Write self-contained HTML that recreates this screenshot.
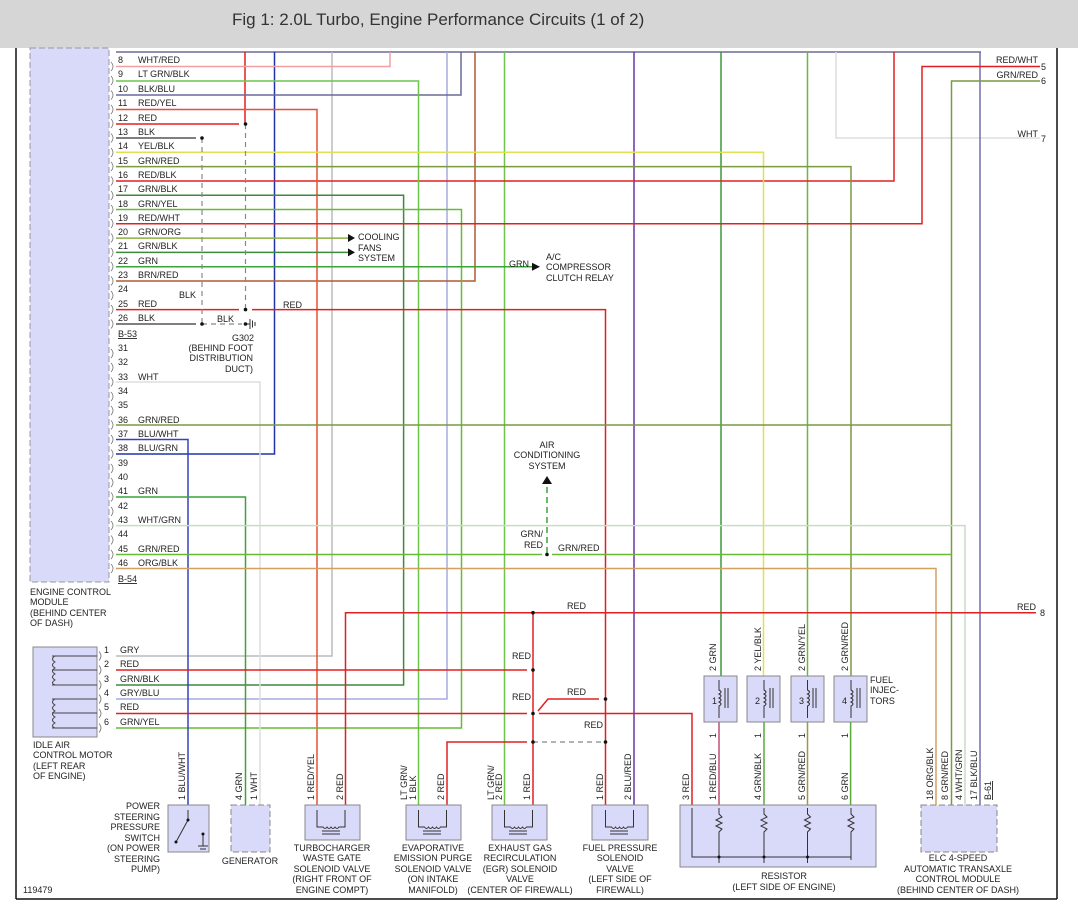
<!DOCTYPE html>
<html><head><meta charset="utf-8"><style>
html,body{margin:0;padding:0;background:#fff;width:1078px;height:908px;overflow:hidden}
svg{display:block}
text{font-family:"Liberation Sans",sans-serif;font-size:9px;fill:#222}
</style></head><body>
<svg width="1078" height="908" viewBox="0 0 1078 908" xmlns="http://www.w3.org/2000/svg">
<rect x="0" y="0" width="1078" height="48" fill="#d6d6d6"/>
<text x="232" y="25" style="font-size:17px;fill:#333">Fig 1: 2.0L Turbo, Engine Performance Circuits (1 of 2)</text>
<line x1="16" y1="48" x2="16" y2="899" stroke="#111" stroke-width="1.5"/>
<line x1="1057" y1="48" x2="1057" y2="899" stroke="#111" stroke-width="1.5"/>
<line x1="16" y1="899" x2="1057" y2="899" stroke="#111" stroke-width="1.5"/>
<rect x="30" y="48" width="79" height="534" fill="#d9d9fa" stroke="#999" stroke-dasharray="6,3"/>
<g fill="none" stroke-width="1.5">
<polyline points="116,52 981,52" stroke="#6a6a98"/>
<polyline points="245,52 245,124" stroke="#e02020"/>
<polyline points="274.5,52 274.5,454 116,454" stroke="#2233aa"/>
<polyline points="332,52 332,656 116,656" stroke="#bbb"/>
<polyline points="390,52 390,66.5 116,66.5" stroke="#f0a0a0"/>
<polyline points="447,52 447,699 116,699" stroke="#a6acdd"/>
<polyline points="461,52 461,95 116,95" stroke="#6a6a98"/>
<polyline points="475,52 475,281 116,281" stroke="#b05a30"/>
<polyline points="504.5,52 504.5,805" stroke="#6cc44a"/>
<polyline points="634,52 634,805" stroke="#6633aa"/>
<polyline points="721,52 721,676" stroke="#3a9a3a"/>
<polyline points="807.5,52 807.5,676" stroke="#66bb33"/>
<polyline points="836,52 836,138 1040,138" stroke="#ddd"/>
<polyline points="894,52 894,181 116,181" stroke="#e02020"/>
<polyline points="980,52 980,805" stroke="#7070a8"/>
<polyline points="116,81 418.5,81 418.5,805" stroke="#6cc44a"/>
<polyline points="116,109.5 317,109.5 317,805" stroke="#e85030"/>
<polyline points="116,124 239,124" stroke="#e02020"/>
<polyline points="116,138 196,138" stroke="#555"/>
<polyline points="116,152.3 763.5,152.3 763.5,676" stroke="#e0e050"/>
<polyline points="116,166.6 851,166.6 851,676" stroke="#7a9a40"/>
<polyline points="116,195.2 403.6,195.2 403.6,685 116,685" stroke="#3d8a3d"/>
<polyline points="116,209.5 461.5,209.5 461.5,728 116,728" stroke="#66bb33"/>
<polyline points="116,223.8 922,223.8 922,66.5 1040,66.5" stroke="#e02020"/>
<polyline points="116,238.1 348,238.1" stroke="#8ab040"/>
<polyline points="116,252.4 348,252.4" stroke="#3d8a3d"/>
<polyline points="116,266.7 532,266.7" stroke="#3aa33a"/>
<polyline points="116,309.6 239,309.6" stroke="#e02020"/>
<polyline points="252,309.6 605.5,309.6 605.5,805" stroke="#e02020"/>
<polyline points="116,324 196,324" stroke="#555"/>
<polyline points="116,382 260,382 260,805" stroke="#ddd"/>
<polyline points="116,425 951.5,425" stroke="#7a9a40"/>
<polyline points="1040,81 951.5,81 951.5,805" stroke="#7a9a40"/>
<polyline points="116,439.5 188,439.5 188,805" stroke="#3344bb"/>
<polyline points="116,497 245.5,497 245.5,805" stroke="#3aa33a"/>
<polyline points="116,525.6 965,525.6 965,805" stroke="#c8dcc8"/>
<polyline points="116,554.5 542,554.5" stroke="#66bb33"/>
<polyline points="552,554.5 951.5,554.5" stroke="#66bb33"/>
<polyline points="116,568.5 936,568.5 936,805" stroke="#d4a060"/>
<polyline points="1036,612.7 345.5,612.7 345.5,805" stroke="#e02020"/>
<polyline points="533,612.7 533,805" stroke="#e02020"/>
<polyline points="116,670 527,670" stroke="#e02020"/>
<polyline points="116,713.5 527,713.5" stroke="#e02020"/>
<polyline points="539,713.5 692,713.5 692,805" stroke="#e02020"/>
<polyline points="538,711 548,699 599,699" stroke="#e02020"/>
<polyline points="527,742 447,742 447,805" stroke="#e02020"/>
<polyline points="719,722 719,805" stroke="#c05070"/>
<polyline points="764,722 764,805" stroke="#5aaa3a"/>
<polyline points="807.5,722 807.5,805" stroke="#9a9a40"/>
<polyline points="850.6,722 850.6,805" stroke="#5aaa3a"/>
</g>
<g fill="none" stroke="#888" stroke-width="1.2" stroke-dasharray="5,4">
<line x1="202" y1="138" x2="202" y2="324"/>
<line x1="245.5" y1="124" x2="245.5" y2="310"/>
<line x1="202" y1="324" x2="242" y2="324"/>
<line x1="533" y1="742" x2="605" y2="742"/>
</g>
<line x1="547" y1="553" x2="547" y2="484" stroke="#3aa33a" stroke-width="1.5" stroke-dasharray="6,4"/>
<polygon points="542,484 552,484 547,476" fill="#111"/>
<g stroke="#333" stroke-width="1"><line x1="245" y1="324" x2="250" y2="324"/><line x1="250" y1="319" x2="250" y2="329"/><line x1="252.5" y1="320.5" x2="252.5" y2="327.5"/><line x1="255" y1="322" x2="255" y2="326"/></g>
<g fill="#111">
<circle cx="245.5" cy="124" r="1.8"/><circle cx="202" cy="138" r="1.8"/><circle cx="245.5" cy="309.6" r="1.8"/><circle cx="202" cy="324" r="1.8"/><circle cx="245.5" cy="324" r="1.8"/>
<circle cx="547" cy="554.5" r="1.8"/><circle cx="533" cy="612.7" r="1.8"/><circle cx="533" cy="670" r="1.8"/><circle cx="533" cy="713.5" r="1.8"/><circle cx="605.5" cy="699" r="1.8"/><circle cx="533" cy="742" r="1.8"/><circle cx="605.5" cy="742" r="1.8"/>
</g>
<polygon points="348,234 348,242 355,238" fill="#111"/>
<polygon points="348,248.4 348,256.4 355,252.4" fill="#111"/>
<polygon points="532,262.7 532,270.7 540,266.7" fill="#111"/>
<!-- connector glyphs -->
<g fill="none" stroke="#777" stroke-width="0.8">
<path d="M111,62 q4,4.5 0,9 M111,76 q4,4.5 0,9 M111,90.5 q4,4.5 0,9 M111,105 q4,4.5 0,9 M111,119 q4,4.5 0,9 M111,133.5 q4,4.5 0,9 M111,148 q4,4.5 0,9 M111,162 q4,4.5 0,9 M111,176.5 q4,4.5 0,9 M111,191 q4,4.5 0,9 M111,205 q4,4.5 0,9 M111,219 q4,4.5 0,9 M111,233.5 q4,4.5 0,9 M111,248 q4,4.5 0,9 M111,262 q4,4.5 0,9 M111,276.5 q4,4.5 0,9 M111,291 q4,4.5 0,9 M111,305 q4,4.5 0,9 M111,319.5 q4,4.5 0,9"/>
<path d="M111,349 q4,4.5 0,9 M111,363 q4,4.5 0,9 M111,377.5 q4,4.5 0,9 M111,392 q4,4.5 0,9 M111,406 q4,4.5 0,9 M111,420.5 q4,4.5 0,9 M111,435 q4,4.5 0,9 M111,449.5 q4,4.5 0,9 M111,464 q4,4.5 0,9 M111,478 q4,4.5 0,9 M111,492.5 q4,4.5 0,9 M111,507 q4,4.5 0,9 M111,521 q4,4.5 0,9 M111,535.5 q4,4.5 0,9 M111,550 q4,4.5 0,9 M111,564 q4,4.5 0,9"/>
<path d="M99,651.5 q4,4.5 0,9 M99,665.5 q4,4.5 0,9 M99,680.5 q4,4.5 0,9 M99,694.5 q4,4.5 0,9 M99,709 q4,4.5 0,9 M99,723.5 q4,4.5 0,9"/>
</g>
<g>
<text x="118" y="63">8</text><text x="138" y="63">WHT/RED</text>
<text x="118" y="77">9</text><text x="138" y="77">LT GRN/BLK</text>
<text x="118" y="92">10</text><text x="138" y="92">BLK/BLU</text>
<text x="118" y="106">11</text><text x="138" y="106">RED/YEL</text>
<text x="118" y="121">12</text><text x="138" y="121">RED</text>
<text x="118" y="135">13</text><text x="138" y="135">BLK</text>
<text x="118" y="149">14</text><text x="138" y="149">YEL/BLK</text>
<text x="118" y="164">15</text><text x="138" y="164">GRN/RED</text>
<text x="118" y="178">16</text><text x="138" y="178">RED/BLK</text>
<text x="118" y="192">17</text><text x="138" y="192">GRN/BLK</text>
<text x="118" y="207">18</text><text x="138" y="207">GRN/YEL</text>
<text x="118" y="221">19</text><text x="138" y="221">RED/WHT</text>
<text x="118" y="235">20</text><text x="138" y="235">GRN/ORG</text>
<text x="118" y="249">21</text><text x="138" y="249">GRN/BLK</text>
<text x="118" y="264">22</text><text x="138" y="264">GRN</text>
<text x="118" y="278">23</text><text x="138" y="278">BRN/RED</text>
<text x="118" y="292">24</text>
<text x="118" y="307">25</text><text x="138" y="307">RED</text>
<text x="118" y="321">26</text><text x="138" y="321">BLK</text>
<text x="118" y="337" text-decoration="underline">B-53</text>
<text x="118" y="351">31</text><text x="118" y="365">32</text>
<text x="118" y="380">33</text><text x="138" y="380">WHT</text>
<text x="118" y="394">34</text><text x="118" y="408">35</text>
<text x="118" y="423">36</text><text x="138" y="423">GRN/RED</text>
<text x="118" y="437">37</text><text x="138" y="437">BLU/WHT</text>
<text x="118" y="451">38</text><text x="138" y="451">BLU/GRN</text>
<text x="118" y="466">39</text><text x="118" y="480">40</text>
<text x="118" y="494">41</text><text x="138" y="494">GRN</text>
<text x="118" y="509">42</text>
<text x="118" y="523">43</text><text x="138" y="523">WHT/GRN</text>
<text x="118" y="537">44</text>
<text x="118" y="552">45</text><text x="138" y="552">GRN/RED</text>
<text x="118" y="566">46</text><text x="138" y="566">ORG/BLK</text>
<text x="118" y="582" text-decoration="underline">B-54</text>
</g>
<text x="179" y="298">BLK</text><text x="217" y="322">BLK</text><text x="283" y="308">RED</text>
<text x="254" y="341" text-anchor="end">G302</text>
<text x="253" y="351" text-anchor="end">(BEHIND FOOT</text>
<text x="253" y="361" text-anchor="end">DISTRIBUTION</text>
<text x="253" y="372" text-anchor="end">DUCT)</text>
<text x="358" y="240">COOLING</text><text x="358" y="251">FANS</text><text x="358" y="261">SYSTEM</text>
<text x="509" y="267">GRN</text>
<text x="546" y="260">A/C</text><text x="546" y="270">COMPRESSOR</text><text x="546" y="281">CLUTCH RELAY</text>
<text x="1038" y="63" text-anchor="end">RED/WHT</text><text x="1041" y="70">5</text>
<text x="1038" y="78" text-anchor="end">GRN/RED</text><text x="1041" y="84">6</text>
<text x="1038" y="137" text-anchor="end">WHT</text><text x="1041" y="142">7</text>
<text x="1036" y="610" text-anchor="end">RED</text><text x="1040" y="616">8</text>
<text x="547" y="448" text-anchor="middle">AIR</text><text x="547" y="458" text-anchor="middle">CONDITIONING</text><text x="547" y="469" text-anchor="middle">SYSTEM</text>
<text x="543" y="537" text-anchor="end">GRN/</text><text x="543" y="548" text-anchor="end">RED</text><text x="558" y="551">GRN/RED</text>
<text x="567" y="609">RED</text><text x="512" y="659">RED</text><text x="512" y="700">RED</text><text x="567" y="695">RED</text><text x="584" y="728">RED</text>
<text x="30" y="595">ENGINE CONTROL</text><text x="30" y="605">MODULE</text><text x="30" y="616">(BEHIND CENTER</text><text x="30" y="626">OF DASH)</text>
<rect x="33" y="647" width="64" height="90" fill="#d9d9fa" stroke="#888"/>
<g fill="none" stroke="#444" stroke-width="1">
<path d="M52,656 h45 M52,670 h45 M52,685 h45 M52,699 h45 M52,713 h45 M52,728 h45"/>
<path d="M55,656 q-5,3 0,6 q-5,3 0,6 q-5,3 0,6 q-5,3 0,6 q-5,3 0,5"/>
<path d="M55,699 q-5,3 0,6 q-5,3 0,6 q-5,3 0,6 q-5,3 0,6 q-5,3 0,5"/>
</g>
<g>
<text x="104" y="653">1</text><text x="120" y="653">GRY</text>
<text x="104" y="667">2</text><text x="120" y="667">RED</text>
<text x="104" y="682">3</text><text x="120" y="682">GRN/BLK</text>
<text x="104" y="696">4</text><text x="120" y="696">GRY/BLU</text>
<text x="104" y="710">5</text><text x="120" y="710">RED</text>
<text x="104" y="725">6</text><text x="120" y="725">GRN/YEL</text>
</g>
<text x="33" y="748">IDLE AIR</text><text x="33" y="758">CONTROL MOTOR</text><text x="33" y="769">(LEFT REAR</text><text x="33" y="779">OF ENGINE)</text>
<g fill="#d9d9fa" stroke="#888">
<rect x="168" y="805" width="41" height="47"/>
<rect x="231" y="805" width="39" height="47" stroke-dasharray="6,3"/>
<rect x="305" y="805" width="55" height="35"/>
<rect x="406" y="805" width="55" height="35"/>
<rect x="492" y="805" width="55" height="35"/>
<rect x="592" y="805" width="56" height="35"/>
<rect x="680" y="805" width="196" height="62"/>
<rect x="921" y="805" width="76" height="47" stroke-dasharray="6,3"/>
<rect x="704" y="676" width="33" height="46"/>
<rect x="747" y="676" width="33" height="46"/>
<rect x="791" y="676" width="33" height="46"/>
<rect x="834" y="676" width="33" height="46"/>
</g>
<g fill="none" stroke="#333" stroke-width="1">
<path d="M188,810 v10 l-12,22 M203,834 v12 M198,846 h10 M200,849 h6"/>
<path d="M317,810 v17 h6 q2,3 4,0 q2,3 4,0 q2,3 4,0 q2,3 4,0 h6 v-17 M322,831 h18 M322,834 h18"/>
<path d="M418.5,810 v17 h6 q2,3 4,0 q2,3 4,0 q2,3 4,0 q2,3 4,0 h6 v-17 M423,831 h18 M423,834 h18"/>
<path d="M504.5,810 v17 h6 q2,3 4,0 q2,3 4,0 q2,3 4,0 q2,3 4,0 h6 v-17 M509,831 h18 M509,834 h18"/>
<path d="M605.5,810 v17 h6 q2,3 4,0 q2,3 4,0 q2,3 4,0 q2,3 4,0 h6 v-17 M610,831 h18 M610,834 h18"/>
<path d="M692,808 v49 h159 M719,808 v6 l3,3 l-6,3 l6,3 l-6,3 l6,3 l-3,3 v31 M764,808 v6 l3,3 l-6,3 l6,3 l-6,3 l6,3 l-3,3 v31 M807.5,808 v6 l3,3 l-6,3 l6,3 l-6,3 l6,3 l-3,3 v31 M851,808 v6 l3,3 l-6,3 l6,3 l-6,3 l6,3 l-3,3 v28"/>
<path d="M719,680 v10 q4,2 0,4 q4,2 0,4 q4,2 0,4 q4,2 0,4 v12 M725,688 v20 M728,688 v20"/>
<path d="M764,680 v10 q4,2 0,4 q4,2 0,4 q4,2 0,4 q4,2 0,4 v12 M770,688 v20 M773,688 v20"/>
<path d="M807.5,680 v10 q4,2 0,4 q4,2 0,4 q4,2 0,4 q4,2 0,4 v12 M813,688 v20 M816,688 v20"/>
<path d="M851,680 v10 q4,2 0,4 q4,2 0,4 q4,2 0,4 q4,2 0,4 v12 M857,688 v20 M860,688 v20"/>
</g>
<g fill="#111"><circle cx="188" cy="820" r="1.5"/><circle cx="176" cy="842" r="1.5"/><circle cx="203" cy="834" r="1.5"/><circle cx="719" cy="857" r="1.5"/><circle cx="764" cy="857" r="1.5"/><circle cx="807.5" cy="857" r="1.5"/></g>
<text x="712" y="704">1</text><text x="755" y="704">2</text><text x="799" y="704">3</text><text x="842" y="704">4</text>
<text x="870" y="683">FUEL</text><text x="870" y="693">INJEC-</text><text x="870" y="704">TORS</text>
<g>
<text transform="translate(185,800) rotate(-90)">1  BLU/WHT</text>
<text transform="translate(242,800) rotate(-90)">4  GRN</text>
<text transform="translate(257,800) rotate(-90)">1  WHT</text>
<text transform="translate(314,800) rotate(-90)">1  RED/YEL</text>
<text transform="translate(343,800) rotate(-90)">2  RED</text>
<text transform="translate(407,800) rotate(-90)">    LT GRN/</text>
<text transform="translate(416,800) rotate(-90)">1  BLK</text>
<text transform="translate(444,800) rotate(-90)">2  RED</text>
<text transform="translate(494,800) rotate(-90)">    LT GRN/</text>
<text transform="translate(502,800) rotate(-90)">2  RED</text>
<text transform="translate(530,800) rotate(-90)">1  RED</text>
<text transform="translate(603,800) rotate(-90)">1  RED</text>
<text transform="translate(631,800) rotate(-90)">2  BLU/RED</text>
<text transform="translate(689,800) rotate(-90)">3  RED</text>
<text transform="translate(716,800) rotate(-90)">1  RED/BLU</text>
<text transform="translate(761,800) rotate(-90)">4  GRN/BLK</text>
<text transform="translate(805,800) rotate(-90)">5  GRN/RED</text>
<text transform="translate(848,800) rotate(-90)">6  GRN</text>
<text transform="translate(933,800) rotate(-90)">18  ORG/BLK</text>
<text transform="translate(948,800) rotate(-90)">8  GRN/RED</text>
<text transform="translate(962,800) rotate(-90)">4  WHT/GRN</text>
<text transform="translate(977,800) rotate(-90)">17  BLK/BLU</text>
<text transform="translate(991,800) rotate(-90)" text-decoration="underline">B-61</text>
<text transform="translate(716,671) rotate(-90)">2  GRN</text>
<text transform="translate(761,671) rotate(-90)">2  YEL/BLK</text>
<text transform="translate(805,671) rotate(-90)">2  GRN/YEL</text>
<text transform="translate(848,671) rotate(-90)">2  GRN/RED</text>
<text transform="translate(716,738) rotate(-90)">1</text>
<text transform="translate(761,738) rotate(-90)">1</text>
<text transform="translate(805,738) rotate(-90)">1</text>
<text transform="translate(848,738) rotate(-90)">1</text>
</g>
<g text-anchor="end"><text x="160" y="809">POWER</text><text x="160" y="820">STEERING</text><text x="160" y="830">PRESSURE</text><text x="160" y="841">SWITCH</text><text x="160" y="851">(ON POWER</text><text x="160" y="862">STEERING</text><text x="160" y="872">PUMP)</text></g>
<g text-anchor="middle">
<text x="250" y="864">GENERATOR</text>
<text x="332" y="851">TURBOCHARGER</text><text x="332" y="861">WASTE GATE</text><text x="332" y="872">SOLENOID VALVE</text><text x="332" y="882">(RIGHT FRONT OF</text><text x="332" y="893">ENGINE COMPT)</text>
<text x="433" y="851">EVAPORATIVE</text><text x="433" y="861">EMISSION PURGE</text><text x="433" y="872">SOLENOID VALVE</text><text x="433" y="882">(ON INTAKE</text><text x="433" y="893">MANIFOLD)</text>
<text x="520" y="851">EXHAUST GAS</text><text x="520" y="861">RECIRCULATION</text><text x="520" y="872">(EGR) SOLENOID</text><text x="520" y="882">VALVE</text><text x="520" y="893">(CENTER OF FIREWALL)</text>
<text x="620" y="851">FUEL PRESSURE</text><text x="620" y="861">SOLENOID</text><text x="620" y="872">VALVE</text><text x="620" y="882">(LEFT SIDE OF</text><text x="620" y="893">FIREWALL)</text>
<text x="784" y="879">RESISTOR</text><text x="784" y="890">(LEFT SIDE OF ENGINE)</text>
<text x="958" y="861">ELC 4-SPEED</text><text x="958" y="872">AUTOMATIC TRANSAXLE</text><text x="958" y="882">CONTROL MODULE</text><text x="958" y="893">(BEHIND CENTER OF DASH)</text>
</g>
<text x="23" y="893">119479</text>
</svg>
</body></html>
